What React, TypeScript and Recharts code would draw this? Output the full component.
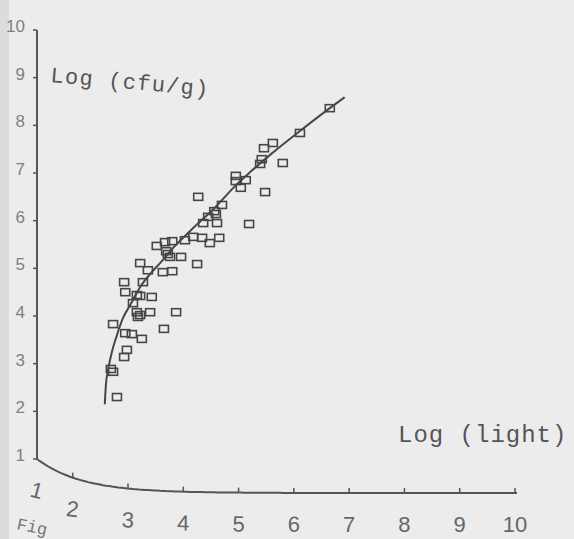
import React from 'react';
import { ScatterChart, Scatter, XAxis, YAxis } from 'recharts';

// sample readings: log(light) vs log(cfu/g)
const sampleLight = [
  6.65, 6.11, 5.62, 5.46, 5.42, 5.39, 5.8, 4.95, 4.95, 5.13, 5.04, 5.48, 4.27, 4.7, 4.56, 4.59,
  4.45, 4.36, 4.61, 5.19, 4.65, 4.48, 3.52, 3.67, 3.8, 4.03, 4.18, 4.34, 3.69, 3.72, 3.76, 3.96,
  4.25, 3.22, 3.36, 3.63, 3.8, 3.27, 2.93, 2.95, 3.16, 3.22, 3.43, 3.09, 3.16, 3.22, 3.18, 3.4,
  3.87, 2.73, 2.95, 3.07, 3.25, 3.65, 2.98, 2.93, 2.69, 2.73, 2.8,
];
const sampleCfu = [
  8.36, 7.84, 7.63, 7.52, 7.29, 7.19, 7.21, 6.94, 6.83, 6.85, 6.69, 6.6, 6.5, 6.33, 6.2, 6.14,
  6.08, 5.95, 5.95, 5.93, 5.64, 5.53, 5.47, 5.55, 5.57, 5.59, 5.66, 5.64, 5.36, 5.3, 5.24, 5.24,
  5.09, 5.11, 4.96, 4.92, 4.94, 4.71, 4.71, 4.5, 4.44, 4.42, 4.4, 4.27, 4.08, 4.02, 3.98, 4.08,
  4.08, 3.83, 3.64, 3.62, 3.52, 3.73, 3.29, 3.14, 2.89, 2.83, 2.3,
];

// fitted curve
const fitLight = [2.58, 2.6, 2.64, 2.71, 2.8, 2.91, 3.04, 3.22, 3.4, 3.58, 3.85, 4.12, 4.57, 4.94, 5.21, 5.57, 6.11, 6.65, 6.92];
const fitCfu = [2.15, 2.55, 2.87, 3.25, 3.6, 3.96, 4.23, 4.61, 4.88, 5.11, 5.47, 5.78, 6.27, 6.73, 7.02, 7.38, 7.88, 8.36, 8.59];

const xLabels = ['1', '2', '3', '4', '5', '6', '7', '8', '9', '10'];
const xTicks = [1.354, 2, 3, 4, 5, 6, 7, 8, 9, 10];
const yTicks = [1, 2, 3, 4, 5, 6, 7, 8, 9, 10];

const W = 574;
const H = 539;
const PLOT_LEFT = 37;
const PLOT_RIGHT = 515;
const AXIS_BASE = 493;
const INK = '#464646';

// the scanned x axis bends up towards the origin
const axisCurveY = (px: number) => AXIS_BASE - 34 * Math.exp(-(px - PLOT_LEFT) / 45);

const points = sampleLight.map((x, i) => ({ x, y: sampleCfu[i] }));
const fit = fitLight.map((x, i) => ({ x, y: fitCfu[i] }));

const SquareDot = (props: any) => {
  const { cx, cy } = props;
  if (cx == null || cy == null) return <g />;
  return <rect x={cx - 4.5} y={cy - 3.5} width={9} height={7} fill="none" stroke={INK} strokeWidth={1.6} />;
};

const XTick = (props: any) => {
  const { x, index } = props;
  const cy = axisCurveY(x);
  const slope = (34 / 45) * Math.exp(-(x - PLOT_LEFT) / 45);
  const rot = (Math.atan(slope) * 180) / Math.PI * 0.4;
  return (
    <g>
      <line x1={x} x2={x} y1={cy} y2={cy - 5} stroke="#555" strokeWidth={1.5} />
      <text
        x={x}
        y={cy + 39}
        textAnchor="middle"
        fontSize={22}
        fill="#666"
        fontFamily="Liberation Sans, Arial, sans-serif"
        transform={`rotate(${rot} ${x} ${cy + 31})`}
      >
        {xLabels[index]}
      </text>
    </g>
  );
};

const YTick = (props: any) => {
  const { x, y, payload } = props;
  return (
    <text x={x} y={y + 2} textAnchor="end" fontSize={17} fill="#808080" fontFamily="Liberation Sans, Arial, sans-serif">
      {payload.value}
    </text>
  );
};

function axisPath() {
  let d = `M ${PLOT_LEFT} 30 L ${PLOT_LEFT} ${axisCurveY(PLOT_LEFT)}`;
  for (let px = PLOT_LEFT + 3; px <= 517; px += 3) {
    d += ` L ${px} ${axisCurveY(px).toFixed(1)}`;
  }
  return d;
}

export default function App() {
  return (
    <div style={{ position: 'absolute', left: 0, top: 0, width: W, height: H, background: '#ececec', overflow: 'hidden' }}>
      <div style={{ position: 'absolute', left: 0, top: 0, width: 9, height: H, background: '#dcdcdc' }} />
      <ScatterChart width={W} height={H} margin={{ top: 30, right: W - PLOT_RIGHT, bottom: 6, left: 0 }}>
        <XAxis
          type="number"
          dataKey="x"
          domain={[1.354, 10]}
          ticks={xTicks}
          interval={0}
          height={40}
          axisLine={false}
          tickLine={false}
          tick={<XTick />}
        />
        <YAxis
          type="number"
          dataKey="y"
          domain={[0.287, 10]}
          ticks={yTicks}
          interval={0}
          width={PLOT_LEFT}
          axisLine={false}
          tickSize={4}
          tickMargin={8}
          tickLine={{ stroke: '#555', strokeWidth: 1.5 }}
          tick={<YTick />}
        />
        <Scatter
          data={fit}
          line={{ stroke: INK, strokeWidth: 2 }}
          lineJointType="monotoneX"
          shape={() => <g />}
          isAnimationActive={false}
        />
        <Scatter data={points} shape={<SquareDot />} isAnimationActive={false} />
      </ScatterChart>
      <svg width={W} height={H} style={{ position: 'absolute', left: 0, top: 0, pointerEvents: 'none' }}>
        <path d={axisPath()} fill="none" stroke="#555" strokeWidth={2} />
        <text
          x={50}
          y={82}
          fontSize={22}
          letterSpacing={1.3}
          fill="#555"
          fontFamily="Liberation Mono, Courier New, monospace"
          transform="rotate(5 50 82)"
        >
          Log (cfu/g)
        </text>
        <text x={398} y={442} fontSize={24} letterSpacing={1} fill="#555" fontFamily="Liberation Mono, Courier New, monospace">
          Log (light)
        </text>
        <text x={16} y={529} fontSize={17} fill="#777" fontFamily="Liberation Mono, Courier New, monospace" transform="rotate(12 16 529)">
          Fig
        </text>
      </svg>
    </div>
  );
}
